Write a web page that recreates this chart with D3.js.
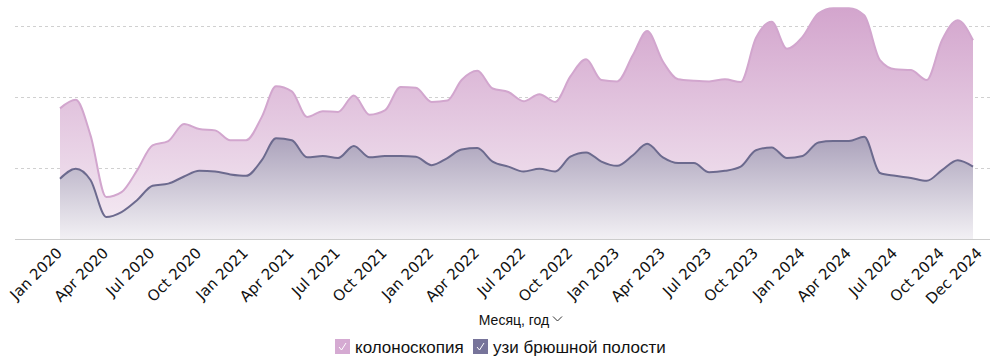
<!DOCTYPE html>
<html>
<head>
<meta charset="utf-8">
<script src="https://cdn.jsdelivr.net/npm/d3@7"></script>
<style>
  body { margin: 0; background: #fff; }
  text { font-family: "Liberation Sans", Arial, sans-serif; fill: #111; }
</style>
</head>
<body>
<div id="chart"></div>
<script>
// months Jan 2020 .. Dec 2024
const months = d3.range(60).map(i => new Date(2020, i, 1));
const tickMonths = [0, 3, 6, 9, 12, 15, 18, 21, 24, 27, 30, 33, 36, 39, 42, 45, 48, 51, 54, 57, 59];
const seriesNames = ["колоноскопия", "узи брюшной полости"];

const colonoscopy = [184, 196, 146, 59, 66, 97, 132, 138, 162, 155, 153, 139,
                     139, 172, 215, 208, 172, 180, 179, 202, 175, 181, 214, 213,
                     193, 195, 224, 237, 212, 207, 194, 204, 193, 229, 253, 224,
                     222, 259, 293, 250, 225, 223, 222, 225, 221, 283, 306, 268,
                     285, 318, 325, 325, 315, 252, 239, 238, 224, 280, 308, 280];
const uzi = [85, 99, 83, 31, 38, 55, 75, 78, 88, 96, 95, 91,
             89, 111, 142, 139, 115, 117, 114, 131, 115, 117, 117, 116,
             104, 114, 126, 128, 109, 102, 95, 99, 95, 116, 122, 109,
             103, 118, 134, 115, 107, 107, 94, 96, 102, 125, 129, 114,
             117, 136, 138, 138, 144, 93, 89, 86, 82, 97, 111, 102];
const gridValues = [100, 200, 300];

const svgWidth = 990, svgHeight = 364;
const fmt = d3.timeFormat("%b %Y");

let svg = d3.select("#chart")
    .append("svg")
    .attr("width", svgWidth)
    .attr("height", svgHeight);

let x = d3.scaleTime()
    .domain([months[0], months[59]])
    .range([60, 973]);
let y = d3.scaleLinear()
    .domain([0, 300])
    .range([239, 26]);

// gradients
let defs = svg.append("defs");
function add_gradient(id, top, bottom) {
    let g = defs.append("linearGradient")
        .attr("id", id)
        .attr("x1", 0).attr("y1", 0).attr("x2", 0).attr("y2", 1);
    g.append("stop").attr("offset", "0%").attr("stop-color", top);
    g.append("stop").attr("offset", "100%").attr("stop-color", bottom);
}
add_gradient("gradPink", "#d3a5cd", "#f6eef5");
add_gradient("gradSlate", "#aba2bb", "#f2f0f4");

// grid lines
svg.append("g")
    .selectAll("line")
    .data(gridValues)
    .enter()
    .append("line")
    .attr("x1", 15)
    .attr("x2", svgWidth)
    .attr("y1", d => Math.round(y(d)) + 0.5)
    .attr("y2", d => Math.round(y(d)) + 0.5)
    .attr("stroke", "#d0d0d0")
    .attr("stroke-dasharray", "3,3");

let area = d3.area()
    .x((d, i) => x(months[i]))
    .y0(y(0))
    .y1(d => y(d))
    .curve(d3.curveMonotoneX);
let line = d3.line()
    .x((d, i) => x(months[i]))
    .y(d => y(d))
    .curve(d3.curveMonotoneX);

svg.append("path")
    .datum(colonoscopy)
    .attr("d", area)
    .attr("fill", "url(#gradPink)");
svg.append("path")
    .datum(colonoscopy)
    .attr("d", line)
    .attr("fill", "none")
    .attr("stroke", "#d2a6ce")
    .attr("stroke-width", 2);

svg.append("path")
    .datum(uzi)
    .attr("d", area)
    .attr("fill", "url(#gradSlate)");
svg.append("path")
    .datum(uzi)
    .attr("d", line)
    .attr("fill", "none")
    .attr("stroke", "#6c6a8e")
    .attr("stroke-width", 2);

// baseline
svg.append("line")
    .attr("x1", 15)
    .attr("x2", svgWidth)
    .attr("y1", y(0) + 0.5)
    .attr("y2", y(0) + 0.5)
    .attr("stroke", "#cccccc");

// x tick labels (last one pushed a bit right like the original)
svg.append("g")
    .selectAll("text")
    .data(tickMonths)
    .enter()
    .append("text")
    .attr("transform", d => `translate(${x(months[d]) + (d === 59 ? 10 : 3)}, 254) rotate(-45)`)
    .attr("text-anchor", "end")
    .style("font-family", "'DejaVu Sans', sans-serif")
    .style("font-size", "15px")
    .text(d => fmt(months[d]));

// axis title
svg.append("text")
    .attr("x", 514)
    .attr("y", 325)
    .attr("text-anchor", "middle")
    .style("font-size", "14px")
    .text("Месяц, год");
svg.append("path")
    .attr("d", "M553,316.5 L557.5,321 L562,316.5")
    .attr("fill", "none")
    .attr("stroke", "#333")
    .attr("stroke-width", 1);

// legend
let legendItems = [
    { name: seriesNames[0], color: "#d5aad2", x: 335 },
    { name: seriesNames[1], color: "#77749a", x: 473 }
];
let legend = svg.append("g")
    .selectAll("g")
    .data(legendItems)
    .enter()
    .append("g")
    .attr("transform", d => `translate(${d.x}, 339)`);
legend.append("rect")
    .attr("width", 15)
    .attr("height", 15)
    .attr("fill", d => d.color);
legend.append("path")
    .attr("d", "M4,8 L6.5,11 L11,4")
    .attr("fill", "none")
    .attr("stroke", "#fff")
    .attr("stroke-width", 1);
legend.append("text")
    .attr("x", 20)
    .attr("y", 14)
    .style("font-size", "17px")
    .text(d => d.name);
</script>
</body>
</html>
